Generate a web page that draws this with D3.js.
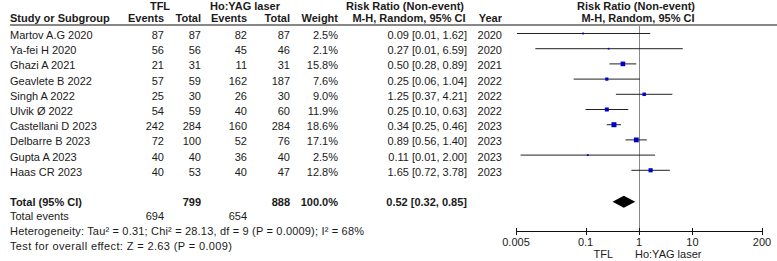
<!DOCTYPE html>
<html>
<head>
<meta charset="utf-8">
<script src="https://cdn.jsdelivr.net/npm/d3@7"></script>
<style>
  body { margin: 0; background: #fff; }
  text { font-family: "Liberation Sans", Arial, sans-serif; font-size: 11px; fill: #1a1a1a; }
  .b { font-weight: bold; }
</style>
</head>
<body>
<div id="chart"></div>
<script>
// forest plot data
const studies = ["Martov A.G 2020", "Ya-fei H 2020", "Ghazi A 2021", "Geavlete B 2022", "Singh A 2022",
  "Ulvik Ø 2022", "Castellani D 2023", "Delbarre B 2023", "Gupta A 2023", "Haas CR 2023"]
const tflEvents = [87, 56, 21, 57, 25, 54, 242, 72, 40, 40]
const tflTotal = [87, 56, 31, 59, 30, 59, 284, 100, 40, 53]
const hoEvents = [82, 45, 11, 162, 26, 40, 160, 52, 36, 40]
const hoTotal = [87, 46, 31, 187, 30, 60, 284, 76, 40, 47]
const weights = [2.5, 2.1, 15.8, 7.6, 9.0, 11.9, 18.6, 17.1, 2.5, 12.8]
const rr = [0.09, 0.27, 0.50, 0.25, 1.25, 0.25, 0.34, 0.89, 0.11, 1.65]
const ciLow = [0.0052, 0.0115, 0.28, 0.06, 0.37, 0.10, 0.25, 0.56, 0.0061, 0.72]
const ciHigh = [1.62, 6.59, 0.89, 1.04, 4.21, 0.63, 0.46, 1.40, 2.00, 3.78]
const years = [2020, 2020, 2021, 2022, 2022, 2022, 2023, 2023, 2023, 2023]
const total = {est: 0.52, lo: 0.32, hi: 0.85, tflN: 799, hoN: 888, weight: 100, tflEv: 694, hoEv: 654}
const tickVals = [0.005, 0.1, 1, 10, 200]
const tickLabels = ["0.005", "0.1", "1", "10", "200"]

const W = 777, H = 261
const svg = d3.select("#chart").append("svg").attr("width", W).attr("height", H)

const x = d3.scaleLog().domain([0.005, 200]).range([516, 762])
const rowY = i => 33.5 + i * 15.2
const size = d3.scaleSqrt().domain([0, 100]).range([0, 11.6])
const f2 = d => d.toFixed(2)

// columns (right-aligned x)
const cols = {tflEv: 164, tflN: 201, hoEv: 247, hoN: 290, w: 338, rr: 467, yr: 502}

function txt(x0, y0, s, anchor, cls) {
  return svg.append("text").attr("x", x0).attr("y", y0).attr("text-anchor", anchor || "start")
    .attr("class", cls || null).text(s)
}

// header
txt(160, 9.5, "TFL", "middle", "b")
txt(245, 9.5, "Ho:YAG laser", "middle", "b")
txt(405, 9.5, "Risk Ratio (Non-event)", "middle", "b")
txt(636, 9.5, "Risk Ratio (Non-event)", "middle", "b")
txt(10, 21.5, "Study or Subgroup", "start", "b")
txt(cols.tflEv, 21.5, "Events", "end", "b")
txt(cols.tflN, 21.5, "Total", "end", "b")
txt(cols.hoEv, 21.5, "Events", "end", "b")
txt(cols.hoN, 21.5, "Total", "end", "b")
txt(cols.w, 21.5, "Weight", "end", "b")
txt(409, 21.5, "M-H, Random, 95% CI", "middle", "b")
txt(cols.yr, 21.5, "Year", "end", "b")
txt(638, 21.5, "M-H, Random, 95% CI", "middle", "b")

svg.append("line").attr("x1", 10).attr("x2", W).attr("y1", 25).attr("y2", 25)
  .attr("stroke", "#111").attr("stroke-width", 1)

// null line
svg.append("line").attr("x1", Math.round(x(1)) + 0.5).attr("x2", Math.round(x(1)) + 0.5)
  .attr("y1", 25).attr("y2", 231.5).attr("stroke", "#888")

// study rows
studies.forEach((s, i) => {
  const y = rowY(i) + 5.5
  txt(10, y, s)
  txt(cols.tflEv, y, tflEvents[i], "end")
  txt(cols.tflN, y, tflTotal[i], "end")
  txt(cols.hoEv, y, hoEvents[i], "end")
  txt(cols.hoN, y, hoTotal[i], "end")
  txt(cols.w, y, weights[i].toFixed(1) + "%", "end")
  txt(cols.rr, y, `${f2(rr[i])} [${f2(ciLow[i])}, ${f2(ciHigh[i])}]`, "end")
  txt(cols.yr, y, years[i], "end")
})

svg.selectAll(".ci").data(studies).join("line").attr("class", "ci")
  .attr("x1", (d, i) => x(ciLow[i])).attr("x2", (d, i) => x(ciHigh[i]))
  .attr("y1", (d, i) => rowY(i)).attr("y2", (d, i) => rowY(i))
  .attr("stroke", "#222").attr("stroke-width", 1)

svg.selectAll(".sq").data(studies).join("rect").attr("class", "sq")
  .attr("x", (d, i) => x(rr[i]) - size(weights[i]) / 2)
  .attr("y", (d, i) => rowY(i) - size(weights[i]) / 2)
  .attr("width", (d, i) => size(weights[i]))
  .attr("height", (d, i) => size(weights[i]))
  .attr("fill", "#0000cc")

// total row
const ty = rowY(11)
txt(10, ty + 5, "Total (95% CI)", "start", "b")
txt(cols.tflN, ty + 5, total.tflN, "end", "b")
txt(cols.hoN, ty + 5, total.hoN, "end", "b")
txt(cols.w, ty + 5, total.weight.toFixed(1) + "%", "end", "b")
txt(cols.rr, ty + 5, `${f2(total.est)} [${f2(total.lo)}, ${f2(total.hi)}]`, "end", "b")

svg.append("path")
  .attr("d", `M${x(total.lo)},${ty + 1} L${x(total.est)},${ty - 5} L${x(total.hi)},${ty + 1} L${x(total.est)},${ty + 7} Z`)
  .attr("fill", "#000")

txt(10, 220, "Total events")
txt(cols.tflEv, 220, total.tflEv, "end")
txt(cols.hoEv, 220, total.hoEv, "end")
txt(10, 235, "Heterogeneity: Tau² = 0.31; Chi² = 28.13, df = 9 (P = 0.0009); I² = 68%")
  .attr("textLength", 354).attr("lengthAdjust", "spacing")
txt(10, 249.5, "Test for overall effect: Z = 2.63 (P = 0.009)")
  .attr("textLength", 222).attr("lengthAdjust", "spacing")

// axis
const axis = svg.append("g").attr("transform", "translate(0,231.5)")
axis.append("line").attr("x1", x(0.005)).attr("x2", x(200)).attr("stroke", "#111")
axis.selectAll(".tk").data(tickVals).join("line").attr("class", "tk")
  .attr("x1", d => Math.round(x(d)) + 0.5).attr("x2", d => Math.round(x(d)) + 0.5)
  .attr("y1", -3.5).attr("y2", 3.5).attr("stroke", "#111")
axis.selectAll(".tl").data(tickVals).join("text").attr("class", "tl")
  .attr("x", d => x(d)).attr("y", 14.5).attr("text-anchor", "middle")
  .text((d, i) => tickLabels[i])

txt(613, 257.5, "TFL", "end")
txt(635, 257.5, "Ho:YAG laser", "start")
</script>
</body>
</html>
